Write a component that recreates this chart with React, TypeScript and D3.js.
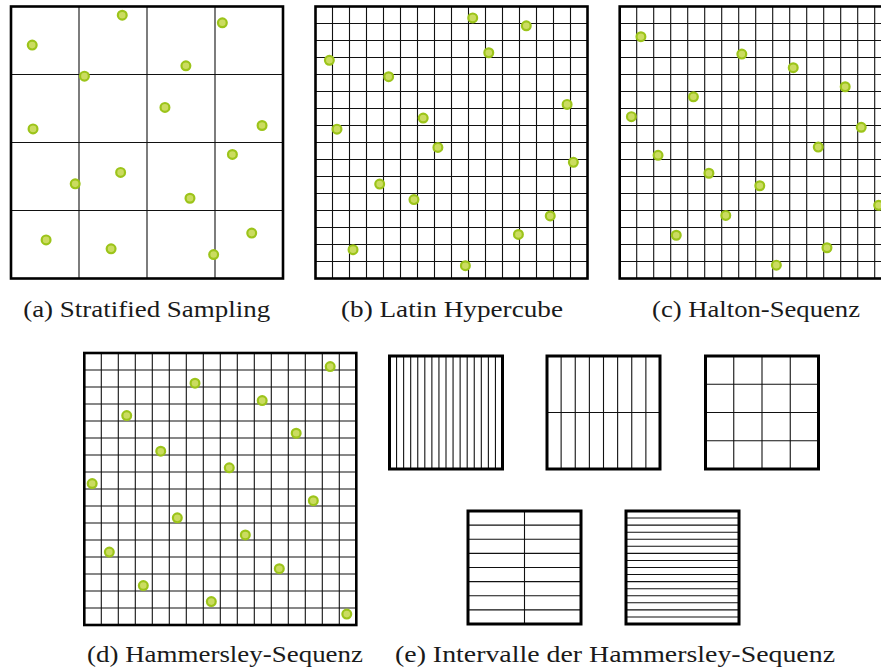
import React from "react";
import * as d3 from "d3";

// Sample points in the unit square (x to the right, y upward)
const stratifiedX = [0.409, 0.777, 0.078, 0.643, 0.270, 0.566, 0.081, 0.923, 0.814, 0.403, 0.236, 0.658, 0.129, 0.368, 0.885, 0.745];
const stratifiedY = [0.968, 0.940, 0.858, 0.782, 0.744, 0.629, 0.550, 0.5625, 0.456, 0.390, 0.348, 0.295, 0.142, 0.109, 0.167, 0.088];

const latinX = [0.578, 0.775, 0.637, 0.051, 0.269, 0.925, 0.396, 0.079, 0.450, 0.948, 0.236, 0.362, 0.863, 0.746, 0.138, 0.551];
const latinY = [0.958, 0.929, 0.830, 0.802, 0.742, 0.640, 0.590, 0.549, 0.482, 0.427, 0.347, 0.290, 0.230, 0.162, 0.106, 0.047];

const haltonX = [0.078, 0.449, 0.638, 0.829, 0.271, 0.043, 0.888, 0.730, 0.141, 0.328, 0.515, 0.952, 0.390, 0.208, 0.762, 0.576];
const haltonY = [0.889, 0.825, 0.775, 0.705, 0.668, 0.595, 0.556, 0.483, 0.453, 0.387, 0.341, 0.269, 0.232, 0.159, 0.113, 0.049];

const hammersleyX = [0.904, 0.407, 0.654, 0.156, 0.779, 0.281, 0.533, 0.029, 0.842, 0.342, 0.592, 0.092, 0.717, 0.217, 0.467, 0.965];
const hammersleyY = [0.950, 0.889, 0.825, 0.770, 0.705, 0.639, 0.578, 0.520, 0.457, 0.394, 0.331, 0.268, 0.207, 0.145, 0.086, 0.040];

// Elementary intervals of the Hammersley sequence: [columns, rows]
const intervalCols = [16, 8, 4, 2, 1];
const intervalRows = [1, 2, 4, 8, 16];

const captions = [
  "(a) Stratified Sampling",
  "(b) Latin Hypercube",
  "(c) Halton-Sequenz",
  "(d) Hammersley-Sequenz",
  "(e) Intervalle der Hammersley-Sequenz",
];

const W = 881;
const H = 671;
const BIG = 272;
const SMALL = 113;

type Panel = { x0: number; y0: number; n: number; xs: number[]; ys: number[] };

const panels: Panel[] = [
  { x0: 11, y0: 6.5, n: 4, xs: stratifiedX, ys: stratifiedY },
  { x0: 315.5, y0: 6.5, n: 16, xs: latinX, ys: latinY },
  { x0: 619.7, y0: 6.5, n: 16, xs: haltonX, ys: haltonY },
  { x0: 84.3, y0: 353, n: 16, xs: hammersleyX, ys: hammersleyY },
];

const smallBoxes = [
  { x0: 389.5, y0: 356 },
  { x0: 547, y0: 356 },
  { x0: 705.5, y0: 356 },
  { x0: 468, y0: 511 },
  { x0: 626, y0: 511 },
];

const captionPos = [
  { cx: 146.7, y: 316.5, w: 247 },
  { cx: 452, y: 316.5, w: 222 },
  { cx: 756, y: 316.5, w: 208 },
  { cx: 225, y: 661.5, w: 276 },
  { cx: 615, y: 661.5, w: 440 },
];

function Grid({ x0, y0, size, cols, rows, border }: { x0: number; y0: number; size: number; cols: number; rows: number; border: number }) {
  const x = d3.scaleLinear().domain([0, cols]).range([x0, x0 + size]);
  const y = d3.scaleLinear().domain([0, rows]).range([y0, y0 + size]);
  return (
    <g>
      <rect x={x0} y={y0} width={size} height={size} fill="#fff" />
      {d3.range(1, cols).map((i) => (
        <line key={"v" + i} x1={x(i)} x2={x(i)} y1={y0} y2={y0 + size} stroke="#111" strokeWidth={1.1} />
      ))}
      {d3.range(1, rows).map((i) => (
        <line key={"h" + i} x1={x0} x2={x0 + size} y1={y(i)} y2={y(i)} stroke="#111" strokeWidth={1.1} />
      ))}
      <rect x={x0} y={y0} width={size} height={size} fill="none" stroke="#000" strokeWidth={border} />
    </g>
  );
}

function PointPanel({ p }: { p: Panel }) {
  const sx = d3.scaleLinear().domain([0, 1]).range([p.x0, p.x0 + BIG]);
  const sy = d3.scaleLinear().domain([0, 1]).range([p.y0 + BIG, p.y0]);
  return (
    <g>
      <Grid x0={p.x0} y0={p.y0} size={BIG} cols={p.n} rows={p.n} border={2.6} />
      {p.xs.map((v, i) => (
        <circle key={i} cx={sx(v)} cy={sy(p.ys[i])} r={4.4} fill="#cbdc60" stroke="#9cc41a" strokeWidth={2.2} />
      ))}
    </g>
  );
}

export default function App() {
  return (
    <svg
      width={W}
      height={H}
      viewBox={`0 0 ${W} ${H}`}
      style={{ position: "absolute", left: 0, top: 0, display: "block", background: "#fff" }}
    >
      {panels.map((p, i) => (
        <PointPanel key={i} p={p} />
      ))}
      {smallBoxes.map((b, i) => (
        <Grid key={i} x0={b.x0} y0={b.y0} size={SMALL} cols={intervalCols[i]} rows={intervalRows[i]} border={3} />
      ))}
      {captions.map((c, i) => (
        <text
          key={i}
          x={captionPos[i].cx}
          y={captionPos[i].y}
          textAnchor="middle"
          textLength={captionPos[i].w}
          lengthAdjust="spacingAndGlyphs"
          style={{ fontFamily: "'Times New Roman', 'Liberation Serif', 'DejaVu Serif', serif" }}
          fontSize={23}
          fill="#1a1a1a"
        >
          {c}
        </text>
      ))}
    </svg>
  );
}
